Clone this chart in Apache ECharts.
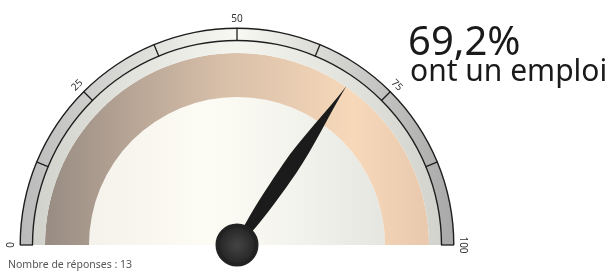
<!DOCTYPE html>
<html>
<head>
<meta charset="utf-8">
<script src="https://cdn.jsdelivr.net/npm/echarts@6/dist/echarts.min.js"></script>
<style>
html,body{margin:0;padding:0;background:#fff;}
#chart{width:613px;height:271px;}
</style>
</head>
<body>
<div id="chart"></div>
<script>
// ---- data ----
const gaugeValue = [69.2];
const scaleMin = 0;
const scaleMax = 100;
const scaleLabels = [0, 25, 50, 75, 100];
const captionText = ['ont un emploi'];
const responsesCount = [13];
const responsesLabel = ['Nombre de réponses : '];

// ---- layout ----
const CX = 237, CY = 245;
const FONT = "'Noto Sans', 'DejaVu Sans', sans-serif";

function lg(stops, x, y, x2, y2) {
  return new echarts.graphic.LinearGradient(x, y, x2, y2,
    stops.map(s => ({offset: s[0], color: s[1]})));
}

function band(radius, width, color, z) {
  return {
    type: 'gauge', center: [CX, CY], radius: radius,
    startAngle: 180, endAngle: 0, min: scaleMin, max: scaleMax, z: z,
    silent: true, animation: false,
    axisLine: {show: true, roundCap: false, lineStyle: {width: width, color: [[1, color]]}},
    axisTick: {show: false}, splitLine: {show: false}, axisLabel: {show: false},
    pointer: {show: false}, anchor: {show: false}, title: {show: false}, detail: {show: false},
    data: []
  };
}

const chart = echarts.init(document.getElementById('chart'), null, {renderer: 'canvas'});

const pctText = gaugeValue[0].toFixed(1).replace('.', ',') + '%';

chart.setOption({
  backgroundColor: '#ffffff',
  animation: false,
  series: [
    // inner face disk
    band(148, 148, lg([[0, '#f4f2ea'], [0.4, '#fdfcf4'], [0.7, '#f3f3ed'], [1, '#e6e6e1']], 0, 0, 1, 0), 1),
    // coloured band
    band(192, 44, lg([[0, '#988c83'], [0.45, '#d6bea8'], [0.8, '#f7d8b9'], [1, '#e8c9ae']], 0, 0, 1, 0), 1),
    // gap ring
    band(204.5, 12.5, lg([[0, '#d2d2cd'], [0.5, '#f5f5f0'], [1, '#d3d3ce']], 0, 0, 1, 0), 1),
    // tick band
    band(217, 12.5, lg([[0, '#bababa'], [0.5, '#f9f9f4'], [1, '#a8a8a8']], 0, 0, 1, 0), 1),
    // border rings
    band(217.5, 1.4, '#1e1e1e', 2),
    band(205.2, 1.4, '#1e1e1e', 2),
    // main series: ticks, labels, pointer
    {
      type: 'gauge', center: [CX, CY], radius: 217,
      startAngle: 180, endAngle: 0, min: scaleMin, max: scaleMax,
      splitNumber: 8, z: 5, animation: false,
      axisLine: {show: false, lineStyle: {width: 13}},
      axisTick: {show: false},
      splitLine: {show: true, distance: -13, length: 13, lineStyle: {color: '#1e1e1e', width: 1.3}},
      axisLabel: {
        show: true, distance: -9, rotate: 'tangential',
        color: '#333', fontSize: 10, fontFamily: FONT,
        formatter: v => scaleLabels.includes(Math.round(v * 100) / 100) ? String(v) : ''
      },
      pointer: {
        show: true,
        icon: 'path://M50,0 C62,18 100,36 100,52 C100,76 80,100 50,100 C20,100 0,76 0,52 C0,36 38,18 50,0 Z',
        length: 193, width: 16, offsetCenter: [0, 0],
        itemStyle: {color: '#1b1b1b'}
      },
      anchor: {
        show: true, showAbove: true, size: 40, icon: 'circle',
        itemStyle: {
          color: new echarts.graphic.RadialGradient(0.5, 0.5, 0.5, [
            {offset: 0, color: '#444444'}, {offset: 0.75, color: '#2a2a2a'}, {offset: 1, color: '#151515'}
          ]),
          borderColor: '#222222', borderWidth: 3
        }
      },
      title: {show: false}, detail: {show: false},
      data: [{value: gaugeValue[0]}]
    }
  ],
  graphic: [
    {type: 'text', left: 408, top: 24, z: 10,
     style: {text: pctText, font: '40px ' + FONT, fill: '#1a1a1a'}},
    {type: 'text', left: 410, top: 57, z: 10,
     style: {text: captionText[0], font: '30px ' + FONT, fill: '#1a1a1a'}},
    {type: 'text', left: 8, top: 260, z: 10,
     style: {text: responsesLabel[0] + responsesCount[0], font: '10.5px ' + FONT, fill: '#555555'}}
  ]
});
</script>
</body>
</html>
